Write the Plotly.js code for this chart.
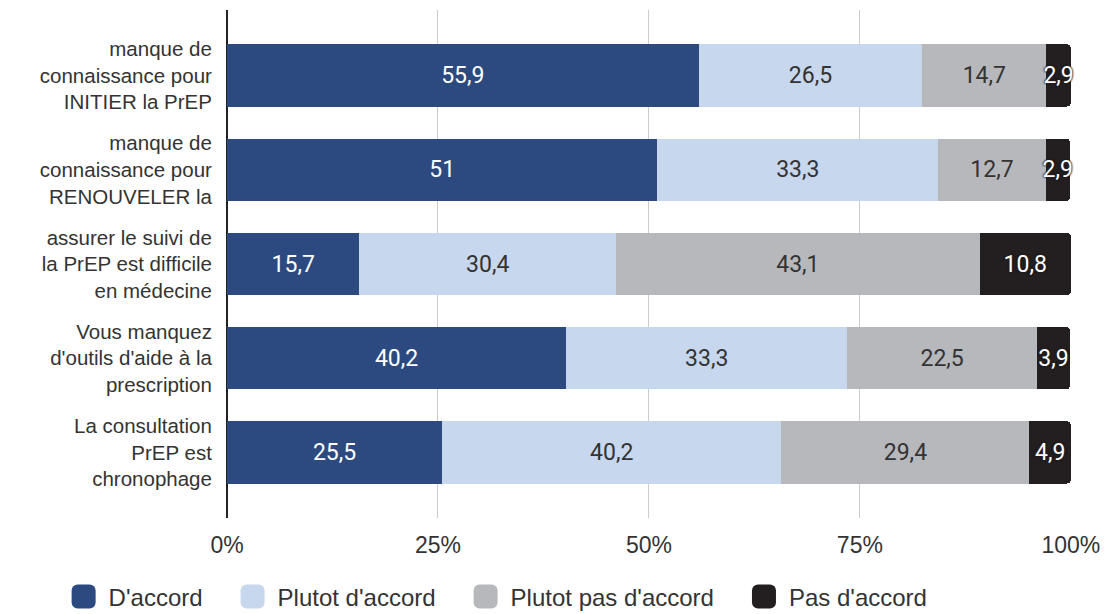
<!DOCTYPE html>
<html>
<head>
<meta charset="utf-8">
<script src="https://cdn.plot.ly/plotly-3.0.1.min.js"></script>
<style>
html,body{margin:0;padding:0;background:#fff;}
#chart{width:1111px;height:614px;}
</style>
</head>
<body>
<div id="chart"></div>
<script>
const categories = [
  "manque de<br>connaissance pour<br>INITIER la PrEP",
  "manque de<br>connaissance pour<br>RENOUVELER la",
  "assurer le suivi de<br>la PrEP est difficile<br>en médecine",
  "Vous manquez<br>d'outils d'aide à la<br>prescription",
  "La consultation<br>PrEP est<br>chronophage"
];
const seriesNames = ["D'accord", "Plutot d'accord", "Plutot pas d'accord", "Pas d'accord"];
const accord = [55.9, 51, 15.7, 40.2, 25.5];
const plutotAccord = [26.5, 33.3, 30.4, 33.3, 40.2];
const plutotPas = [14.7, 12.7, 43.1, 22.5, 29.4];
const pasAccord = [2.9, 2.9, 10.8, 3.9, 4.9];
const tickVals = [0, 25, 50, 75, 100];
const tickText = ["0%", "25%", "50%", "75%", "100%"];

const colors = ["#2c4a80", "#c7d7ee", "#b7b8bc", "#231f20"];
const textColors = ["#ffffff", "#333333", "#333333", "#ffffff"];
const textShadows = ["none", "none", "none", "0 0 2px #231f20, 0 0 2px #231f20, 0 0 2px #231f20"];
const values = [accord, plutotAccord, plutotPas, pasAccord];

const fmt = v => String(v).replace('.', ',');
const pad = '\u00a0\u00a0\u00a0';

const traces = values.map((vals, i) => ({
  type: 'bar',
  orientation: 'h',
  name: seriesNames[i] + (i < values.length - 1 ? pad : ''),
  y: categories,
  x: vals,
  text: vals.map(fmt),
  textposition: 'inside',
  insidetextanchor: 'middle',
  textangle: 0,
  constraintext: 'none',
  cliponaxis: false,
  textfont: {family: 'Roboto, sans-serif', size: 23, color: textColors[i], shadow: textShadows[i]},
  marker: {color: colors[i], line: {width: 0}},
  width: 0.66,
  hoverinfo: 'skip'
}));

const layout = {
  width: 1111, height: 614,
  margin: {l: 227, r: 40, t: 10, b: 96, autoexpand: false},
  barmode: 'stack',
  barcornerradius: 4,
  uniformtext: {mode: 'show', minsize: 23},
  paper_bgcolor: '#ffffff',
  plot_bgcolor: '#ffffff',
  separators: ', ',
  font: {family: '"Liberation Sans", Arial, sans-serif', size: 20, color: '#333333'},
  xaxis: {
    range: [0, 100.02],
    tickvals: tickVals,
    ticktext: tickText,
    showgrid: true,
    gridcolor: '#cccccc',
    gridwidth: 1,
    zeroline: true,
    zerolinecolor: '#222222',
    zerolinewidth: 1.5,
    showline: false,
    ticks: 'outside',
    ticklen: 6,
    tickcolor: 'rgba(0,0,0,0)',
    tickfont: {family: '"Liberation Sans", Arial, sans-serif', size: 23, color: '#333333'},
    fixedrange: true
  },
  yaxis: {
    autorange: false,
    range: [4.695, -0.695],
    showgrid: false,
    zeroline: false,
    showline: false,
    ticks: 'outside',
    ticklen: 10,
    tickcolor: 'rgba(0,0,0,0)',
    tickfont: {family: '"Liberation Sans", Arial, sans-serif', size: 20.5, color: '#333333'},
    fixedrange: true
  },
  showlegend: true,
  legend: {
    orientation: 'h',
    xref: 'paper', yref: 'paper',
    x: -0.1995, xanchor: 'left',
    y: -0.1555, yanchor: 'middle',
    itemwidth: 40,
    font: {family: '"Liberation Sans", Arial, sans-serif', size: 24, color: '#333333'},
    traceorder: 'normal',
    itemclick: false
  }
};

function enlargeLegendSymbols(gd) {
  gd.querySelectorAll('.legendpoints path').forEach(p => {
    const t = p.getAttribute('transform') || '';
    if (!p.dataset.scaled) {
      p.setAttribute('transform', (t + ' scale(2)').trim());
      p.dataset.scaled = '1';
    }
  });
}

Plotly.newPlot('chart', traces, layout, {displayModeBar: false, staticPlot: true})
  .then(gd => enlargeLegendSymbols(gd));
</script>
</body>
</html>
